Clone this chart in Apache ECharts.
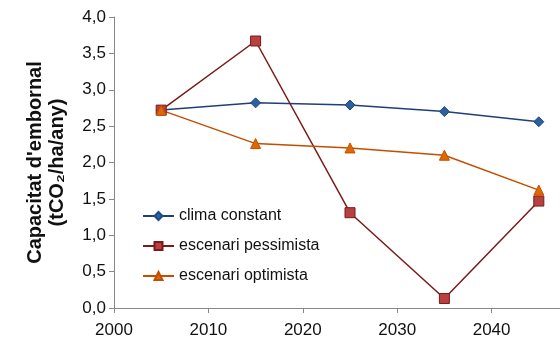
<!DOCTYPE html>
<html><head><meta charset="utf-8">
<script src="https://cdn.jsdelivr.net/npm/echarts@6/dist/echarts.min.js"></script>
<style>html,body{margin:0;padding:0;background:#fff}#c{width:560px;height:347px}</style>
</head><body><div id="c"></div>
<script>
const years = [2005, 2015, 2025, 2035, 2045];
const climaConstant = [2.72, 2.82, 2.79, 2.70, 2.56];
const escenariPessimista = [2.72, 3.67, 1.31, 0.13, 1.47];
const escenariOptimista = [2.72, 2.26, 2.20, 2.10, 1.62];
const seriesNames = ['clima constant', 'escenari pessimista', 'escenari optimista'];
const yTitle = "Capacitat d'embornal\n(tCO\u2082/ha/any)";

const font = 'Liberation Sans, Open Sans, sans-serif';
const chart = echarts.init(document.getElementById('c'));
function pairs(v){ return years.map((y,i)=>[y, v[i]]); }
chart.setOption({
  animation: false,
  textStyle: {fontFamily: font},
  grid: {left: 114, right: -26, top: 17, bottom: 39, containLabel: false, outerBoundsMode: 'none'},
  xAxis: {
    type: 'value', min: 2000, max: 2050, interval: 10,
    axisLine: {lineStyle: {color: '#888', width: 1}},
    axisTick: {show: true, length: 5, lineStyle: {color: '#888'}},
    splitLine: {show: false},
    axisLabel: {color: '#111', fontSize: 17, margin: 14, fontFamily: font,
      formatter: v => v >= 2050 ? '' : String(v)}
  },
  yAxis: {
    type: 'value', min: 0, max: 4, interval: 0.5,
    name: yTitle, nameLocation: 'middle', nameRotate: 90, nameGap: 46,
    nameTextStyle: {fontSize: 20, fontWeight: 'bold', color: '#111', lineHeight: 22, fontFamily: font},
    axisLine: {show: true, lineStyle: {color: '#888', width: 1}},
    axisTick: {show: true, length: 5, lineStyle: {color: '#888'}},
    splitLine: {show: false},
    axisLabel: {color: '#111', fontSize: 17, margin: 8, fontFamily: font,
      formatter: v => v.toFixed(1).replace('.', ',')}
  },
  legend: {
    orient: 'vertical', left: 142, top: 208, padding: 0, itemGap: 14, itemWidth: 31, itemHeight: 10,
    textStyle: {fontSize: 16, color: '#111', fontFamily: font},
    data: seriesNames
  },
  series: [
    {name: seriesNames[0], type: 'line', data: pairs(climaConstant), symbol: 'diamond', symbolSize: 10,
      lineStyle: {color: '#1F3F7A', width: 1.5}, itemStyle: {color: '#2E5F9E', borderColor: '#1F4A86', borderWidth: 1}},
    {name: seriesNames[1], type: 'line', data: pairs(escenariPessimista), symbol: 'rect', symbolSize: 10,
      lineStyle: {color: '#7A1A1A', width: 1.5}, itemStyle: {color: '#B94040', borderColor: '#7A1A1A', borderWidth: 1}},
    {name: seriesNames[2], type: 'line', data: pairs(escenariOptimista), symbol: 'triangle', symbolSize: 10,
      lineStyle: {color: '#C24E00', width: 1.5}, itemStyle: {color: '#E06800', borderColor: '#C24E00', borderWidth: 1}}
  ]
});
</script></body></html>
